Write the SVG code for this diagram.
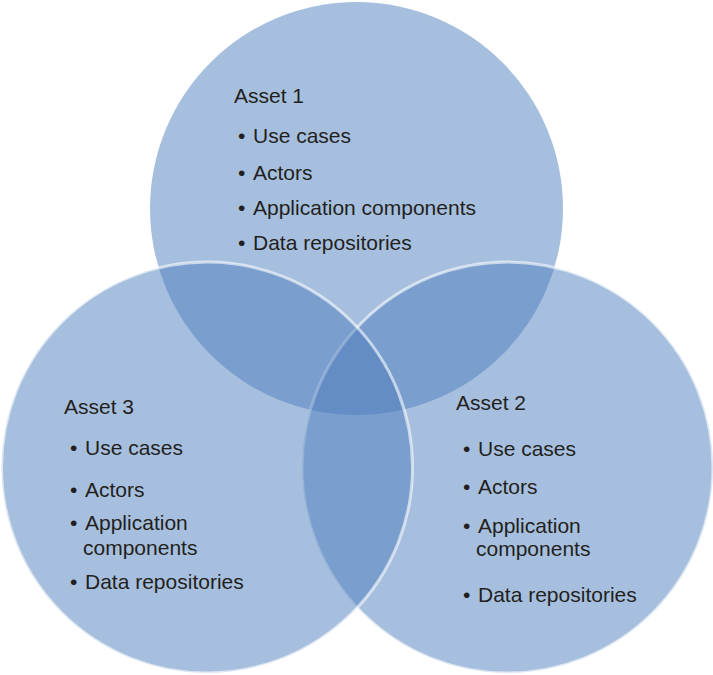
<svg xmlns="http://www.w3.org/2000/svg" width="713" height="675" viewBox="0 0 713 675">
<style>
.c{fill:rgb(75,124,188);fill-opacity:0.49}
.s{stroke:#fff;stroke-opacity:0.6;stroke-width:3}
text{font-family:"Liberation Sans",Arial,sans-serif;font-size:21px;fill:#231f20}
</style>
<rect width="713" height="675" fill="#fff"/>
<g id="asset1">
<circle class="c" cx="356.5" cy="208.5" r="206.5"/>
</g>
<g id="asset2">
<circle class="c s" cx="507.5" cy="467.5" r="205.5"/>
</g>
<g id="asset3">
<circle class="c s" cx="207" cy="467.5" r="205.5"/>
</g>
<g id="connectors"></g>
<g id="asset1-text">
<text x="234" y="103">Asset 1</text>
<text x="238" y="143">•</text><text x="253" y="143">Use cases</text>
<text x="238" y="180">•</text><text x="253" y="180">Actors</text>
<text x="238" y="215">•</text><text x="253" y="215">Application components</text>
<text x="238" y="250">•</text><text x="253" y="250">Data repositories</text>
</g>
<g id="asset3-text">
<text x="64" y="414">Asset 3</text>
<text x="70" y="455">•</text><text x="85" y="455">Use cases</text>
<text x="70" y="497">•</text><text x="85" y="497">Actors</text>
<text x="70" y="530">•</text><text x="85" y="530">Application</text>
<text x="83" y="555">components</text>
<text x="70" y="589">•</text><text x="85" y="589">Data repositories</text>
</g>
<g id="asset2-text">
<text x="456" y="410">Asset 2</text>
<text x="463" y="456">•</text><text x="478" y="456">Use cases</text>
<text x="463" y="494">•</text><text x="478" y="494">Actors</text>
<text x="463" y="533">•</text><text x="478" y="533">Application</text>
<text x="476" y="556">components</text>
<text x="463" y="602">•</text><text x="478" y="602">Data repositories</text>
</g>
</svg>
